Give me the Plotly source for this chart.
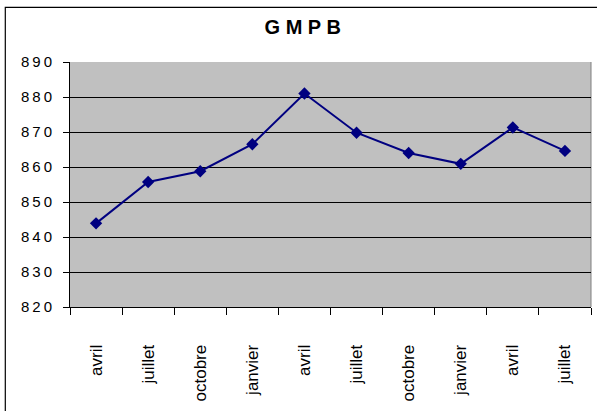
import plotly.graph_objects as go

title = "G M P B"
months = ["avril", "juillet", "octobre", "janvier", "avril",
          "juillet", "octobre", "janvier", "avril", "juillet"]
values = [843.9, 855.7, 858.8, 866.5, 881.0, 869.8, 864.0, 860.9, 871.3, 864.6]
y_ticks = [820, 830, 840, 850, 860, 870, 880, 890]

W, H = 597, 411
L, R, T, B = 69.7, 590.7, 61.7, 306.7

xs = list(range(len(months)))

fig = go.Figure()
fig.add_trace(go.Scatter(
    x=xs, y=values, mode="lines+markers",
    line=dict(color="#000080", width=2),
    marker=dict(symbol="diamond", size=9.5, color="#000080"),
    cliponaxis=False, showlegend=False,
))

def px2paper_x(px):
    return (px - L) / (R - L)

def px2paper_y(py):
    return (B - py) / (B - T)

# outer chart frame
fig.add_shape(type="rect", xref="paper", yref="paper",
              x0=px2paper_x(5), x1=px2paper_x(603),
              y0=px2paper_y(420), y1=px2paper_y(7),
              line=dict(color="black", width=1.2), layer="above")
# plot area right border (gray)
fig.add_shape(type="line", xref="paper", yref="paper",
              x0=1, x1=1, y0=0, y1=1,
              line=dict(color="#808080", width=1), layer="below")

fig.update_layout(
    width=W, height=H,
    margin=dict(l=L, r=W - R, t=T, b=H - B),
    paper_bgcolor="white", plot_bgcolor="#C0C0C0",
    font=dict(family="Liberation Sans, Arial, sans-serif", color="black"),
    title=dict(text=title, x=0.507, xref="container", xanchor="center",
               y=1 - 26.5 / H, yref="container", yanchor="middle",
               font=dict(family="Liberation Sans, Arial", size=20,
                         weight="bold", color="black")),
)

fig.update_xaxes(
    range=[-0.5, len(months) - 0.5],
    tickmode="array", tickvals=xs, ticktext=months,
    tickangle=-90, ticks="", tickfont=dict(size=17),
    ticklabelstandoff=30,
    showgrid=False, zeroline=False,
    showline=True, linecolor="black", linewidth=1,
    minor=dict(tickmode="array", tickvals=[i - 0.5 for i in range(len(months) + 1)],
               ticks="outside", ticklen=7, tickcolor="black", tickwidth=1, showgrid=False),
)
fig.update_yaxes(
    range=[y_ticks[0], y_ticks[-1]],
    tickmode="array", tickvals=y_ticks,
    ticktext=["\u2009".join(str(v)) for v in y_ticks],
    ticks="outside", ticklen=6, tickcolor="black", tickwidth=1,
    tickfont=dict(size=15), ticklabelstandoff=8,
    showgrid=True, gridcolor="black", gridwidth=1,
    zeroline=False, showline=True, linecolor="black", linewidth=1,
)

fig.write_html("out.html", config={"displayModeBar": False},
               post_script="document.body.style.margin='0';")
